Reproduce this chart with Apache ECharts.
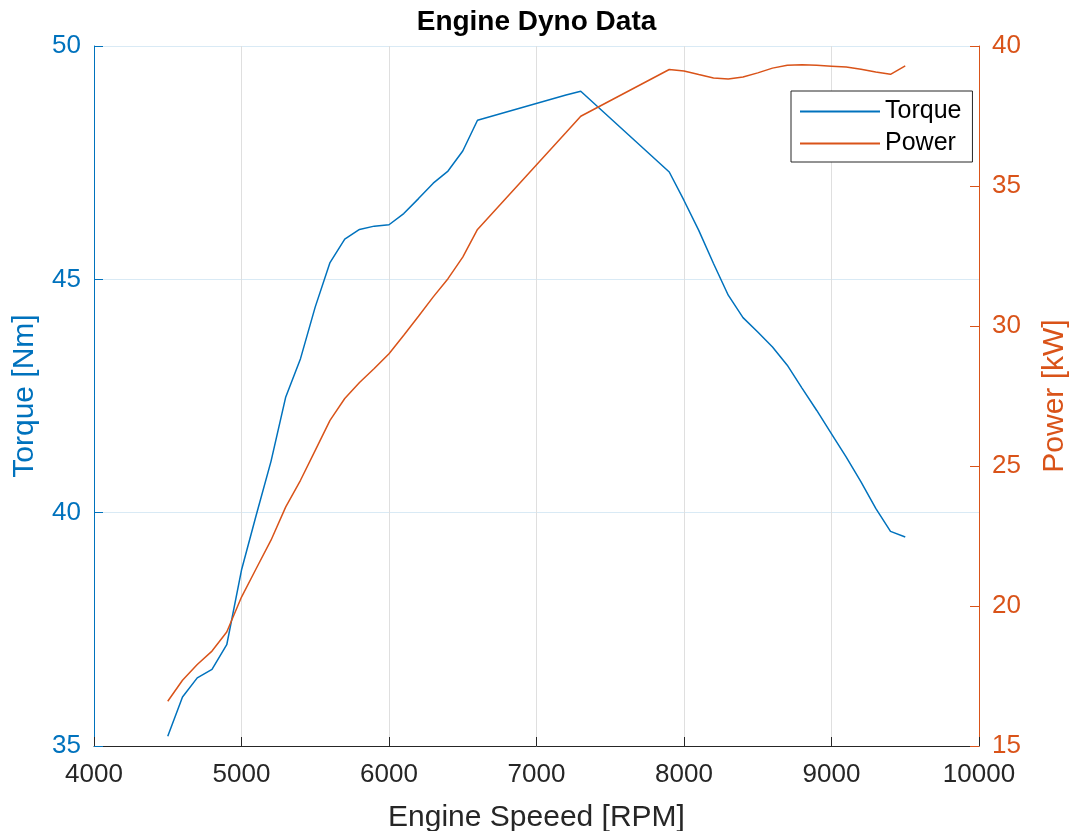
<!DOCTYPE html>
<html>
<head>
<meta charset="utf-8">
<script src="https://cdn.jsdelivr.net/npm/echarts@6/dist/echarts.min.js"></script>
<style>
html,body{margin:0;padding:0;background:#fff;}
#chart{width:1073px;height:831px;}
</style>
</head>
<body>
<div id="chart"></div>
<script>
// Engine speed (rpm) at each measured point
const rpm = [4500,4600,4700,4800,4900,5000,5100,5200,5300,5400,5500,5600,5700,5800,5900,6000,
             6100,6200,6300,6400,6500,6600,7200,7300,7900,8000,8100,8200,8300,8400,8500,8600,
             8700,8800,8900,9000,9100,9200,9300,9400,9500];
// Torque [Nm]
const torque = [35.21,36.05,36.46,36.64,37.17,38.77,39.95,41.10,42.48,43.30,44.41,45.36,45.86,46.07,46.14,46.17,
                46.41,46.73,47.06,47.32,47.75,48.41,48.95,49.03,47.30,46.69,46.05,45.34,44.66,44.18,43.87,43.55,
                43.16,42.67,42.19,41.69,41.19,40.66,40.09,39.60,39.48];
// Power [kW]
const power = [16.60,17.35,17.91,18.39,19.07,20.32,21.34,22.35,23.54,24.49,25.56,26.63,27.41,27.98,28.48,29.01,
               29.67,30.35,31.04,31.69,32.46,33.45,36.91,37.49,39.16,39.11,38.98,38.86,38.82,38.89,39.04,39.21,
               39.31,39.33,39.31,39.28,39.25,39.17,39.07,38.99,39.29];

const seriesNames = ['Torque','Power'];
const titleText = 'Engine Dyno Data';
const xName = 'Engine Speeed [RPM]';
const yLeftName = 'Torque [Nm]';
const yRightName = 'Power [kW]';

const BLUE = '#0072BD', ORANGE = '#D95319', DARK = '#262626';
const FONT = "'Liberation Sans', Arial, Helvetica, sans-serif";

const chart = echarts.init(document.getElementById('chart'), null, {renderer:'canvas'});
chart.setOption({
  animation: false,
  backgroundColor: '#ffffff',
  textStyle: {fontFamily: FONT},
  title: {
    text: titleText, left: 'center', top: 8, padding: 0,
    textStyle: {fontSize: 28, fontWeight: 'bold', color: '#000', fontFamily: FONT}
  },
  grid: {left: 94, right: 94, top: 46, bottom: 85, containLabel: false, outerBoundsMode: 'none'},
  legend: {
    orient: 'vertical', left: 791, top: 91,
    padding: [8, 11, 6, 9], itemGap: 7,
    itemWidth: 80, itemHeight: 2, icon: 'rect',
    borderColor: DARK, borderWidth: 1, borderRadius: 0, backgroundColor: '#fff',
    textStyle: {fontSize: 25, color: '#000', fontFamily: FONT, padding: [0,0,0,0]},
    itemStyle: {borderWidth: 0},
    data: seriesNames
  },
  xAxis: {
    type: 'value', min: 4000, max: 10000, interval: 1000,
    name: xName, nameLocation: 'middle', nameGap: 57,
    nameTextStyle: {fontSize: 30, color: DARK, fontFamily: FONT},
    axisLine: {show: true, lineStyle: {color: DARK, width: 1}},
    axisTick: {show: true, inside: true, length: 9, lineStyle: {color: DARK}},
    axisLabel: {fontSize: 26, color: DARK, margin: 16, fontFamily: FONT,
                formatter: v => String(v)},
    splitLine: {show: true, lineStyle: {color: '#dfdfdf', width: 1}}
  },
  yAxis: [
    {
      type: 'value', position: 'left', min: 35, max: 50, interval: 5,
      name: yLeftName, nameLocation: 'middle', nameGap: 54, nameRotate: 90,
      nameTextStyle: {fontSize: 30, color: BLUE, fontFamily: FONT},
      axisLine: {show: true, lineStyle: {color: BLUE, width: 1}},
      axisTick: {show: true, inside: true, length: 9, lineStyle: {color: BLUE}},
      axisLabel: {fontSize: 26, color: BLUE, margin: 13, fontFamily: FONT},
      splitLine: {show: true, lineStyle: {color: '#d9eaf5', width: 1}}
    },
    {
      type: 'value', position: 'right', min: 15, max: 40, interval: 5,
      name: yRightName, nameLocation: 'middle', nameGap: 61, nameRotate: 90,
      nameTextStyle: {fontSize: 30, color: ORANGE, fontFamily: FONT},
      axisLine: {show: true, lineStyle: {color: ORANGE, width: 1}},
      axisTick: {show: true, inside: true, length: 9, lineStyle: {color: ORANGE}},
      axisLabel: {fontSize: 26, color: ORANGE, margin: 13, fontFamily: FONT},
      splitLine: {show: false}
    }
  ],
  series: [
    {
      name: seriesNames[0], type: 'line', yAxisIndex: 0,
      data: rpm.map((r, i) => [r, torque[i]]),
      showSymbol: false, symbol: 'none', smooth: false,
      lineStyle: {color: BLUE, width: 1.5}, itemStyle: {color: BLUE}
    },
    {
      name: seriesNames[1], type: 'line', yAxisIndex: 1,
      data: rpm.map((r, i) => [r, power[i]]),
      showSymbol: false, symbol: 'none', smooth: false,
      lineStyle: {color: ORANGE, width: 1.5}, itemStyle: {color: ORANGE}
    }
  ]
});
</script>
</body>
</html>
